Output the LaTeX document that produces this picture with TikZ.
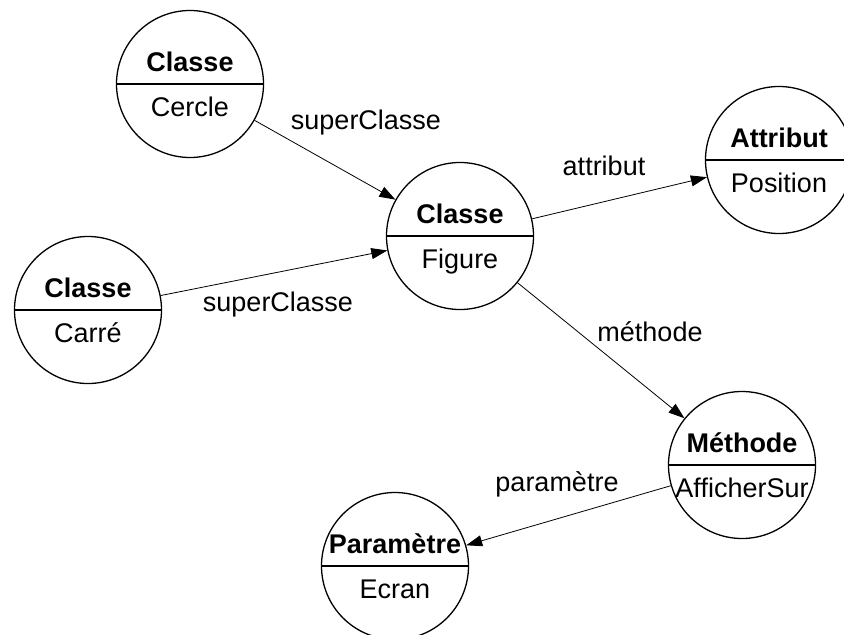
\documentclass[tikz,border=0pt]{standalone}
\usepackage{fontspec}
\setmainfont{Liberation Sans}
\usetikzlibrary{arrows.meta}
\begin{document}
\begin{tikzpicture}[x=1pt,y=-1pt,
  obj/.style={circle,draw,line width=1.3pt,minimum size=147pt,inner sep=0pt},
  div/.style={line width=1.3pt},
  ttl/.style={font=\fontsize{27}{30}\selectfont\bfseries,anchor=base,inner sep=0pt},
  val/.style={font=\fontsize{27}{30}\selectfont,anchor=base,inner sep=0pt},
  lbl/.style={font=\fontsize{27}{30}\selectfont,inner sep=0pt},
  link/.style={line width=0.8pt,-{Triangle[length=16pt,width=11pt]}}]
\useasboundingbox (0,0) rectangle (844,635);

% objects
\node[obj] (cercle) at (190,84) {};
\node[obj] (carre) at (88,310) {};
\node[obj] (figure) at (460,236) {};
\node[obj] (attribut) at (779,160) {};
\node[obj] (methode) at (742,465) {};
\node[obj] (parametre) at (395,566) {};

\foreach \n in {cercle,carre,figure,attribut,methode,parametre}
  \draw[div] (\n.west) -- (\n.east);

\node[ttl] (t1) at (190,71) {Classe};
\node[val] (v1) at (190,116) {Cercle};
\node[ttl] (t2) at (88,297) {Classe};
\node[val] (v2) at (88,342) {Carré};
\node[ttl] (t3) at (460,223) {Classe};
\node[val] (v3) at (460,268) {Figure};
\node[ttl] (t4) at (779,147) {Attribut};
\node[val] (v4) at (779,192) {Position};
\node[ttl] (t5) at (742,452) {Méthode};
\node[val] (v5) at (742,497) {AfficherSur};
\node[ttl] (t6) at (395,553) {Paramètre};
\node[val] (v6) at (395,598) {Ecran};

% links
\draw[link] (cercle) -- (figure);
\draw[link] (carre) -- (figure);
\draw[link] (figure) -- (attribut);
\draw[link] (figure) -- (methode);
\draw[link] (methode) -- (parametre);

\node[lbl] (l1) at (366,123) {superClasse};
\node[lbl] (l2) at (278,305) {superClasse};
\node[lbl] (l3) at (604,166) {attribut};
\node[lbl] (l4) at (650,332) {méthode};
\node[lbl] (l5) at (557,484) {paramètre};
\end{tikzpicture}
\end{document}
